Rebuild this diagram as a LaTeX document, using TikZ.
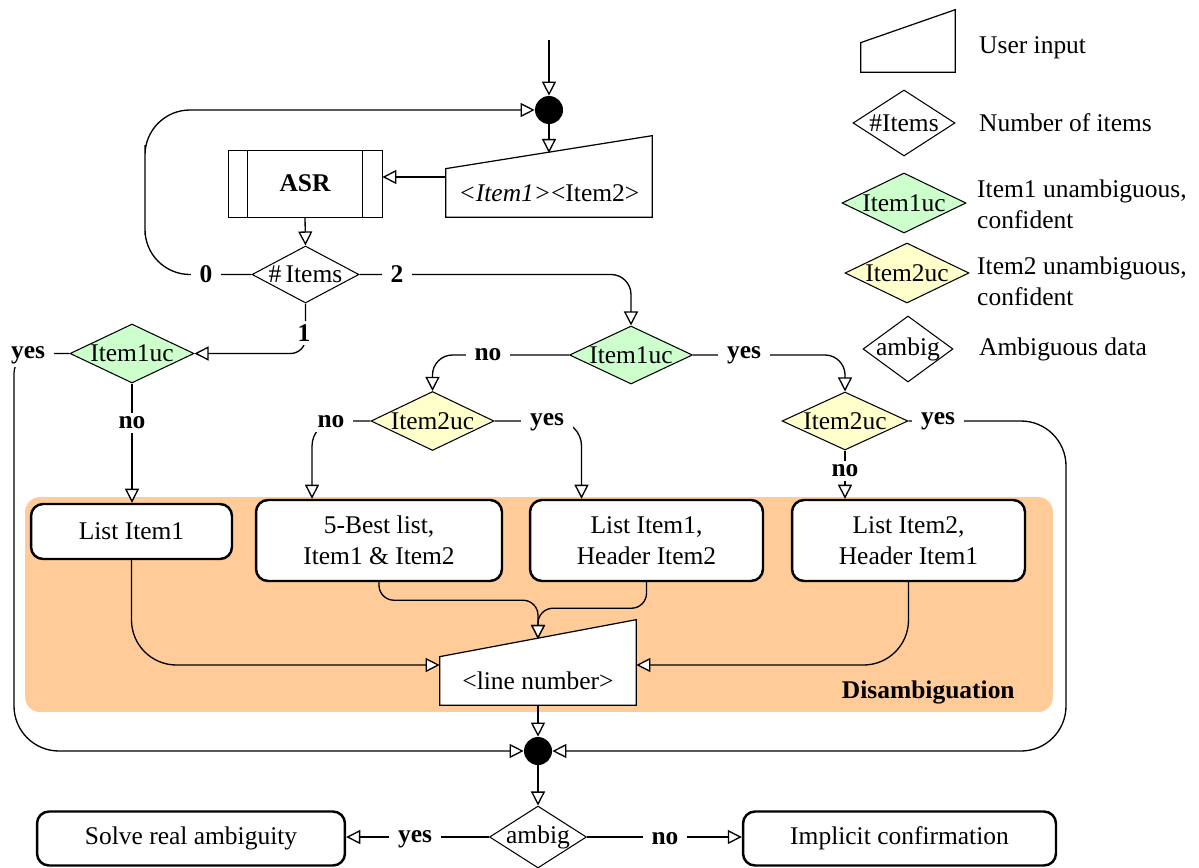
\documentclass[tikz,border=0pt]{standalone}
\usepackage{fontspec}
\setmainfont{Liberation Serif}
\usetikzlibrary{arrows.meta,shapes.geometric}
\definecolor{okgreen}{RGB}{204,255,204}
\definecolor{okyellow}{RGB}{255,255,204}
\definecolor{zonefill}{RGB}{255,204,153}
\newcommand\diagfont{\fontsize{14.5}{17.4}\selectfont}
\begin{document}
\begin{tikzpicture}[x=0.02cm,y=-0.02cm,
  font=\diagfont,
  thin line/.style={line width=0.7pt},
  arr/.style={line width=0.75pt,-{Triangle[length=8pt,width=8pt,fill=white]}},
  dec/.style={diamond,draw,line width=0.6pt,inner sep=0pt},
  box/.style={draw,line width=1.4pt,rounded corners=0.24cm,fill=white,align=center,inner sep=0pt},
  lbl/.style={fill=white,inner xsep=5pt,inner ysep=2pt,font=\diagfont\bfseries},
  dot/.style={circle,fill=black,minimum size=0.56cm,inner sep=0pt},
  input/.style={inner sep=0pt}
]
\useasboundingbox (0,0) rectangle (1199,868);

% disambiguation zone
\node[fill=zonefill,rounded corners=0.3cm,minimum width=20.56cm,minimum height=4.3cm,inner sep=0pt] (zone) at (539,604.5) {};
\node[anchor=east,font=\diagfont\bfseries,inner sep=0pt] (zonelbl) at (1015,692) {Disambiguation};

% junctions
\coordinate (start) at (549,40);
\node[dot] (j1) at (549,110) {};
\node[dot] (j2) at (538,751) {};

% user input of both items
\node[input,minimum width=4.12cm,minimum height=0.96cm] (ui) at (549,193) {};
\draw[thin line,fill=white] (ui.south west) -- (ui.south east) -- ([yshift=0.66cm]ui.north east) -- (ui.north west) -- cycle;
\node at (ui) {\textit{<Item1>}<Item2>};
\coordinate (uitop) at (549,153);
\coordinate (uiout) at ([yshift=0.32cm]ui.west);

% recognizer
\node[draw,line width=0.5pt,minimum width=3.08cm,minimum height=1.34cm,font=\diagfont\bfseries] (asr) at (305,183.5) {ASR};
\draw[line width=0.5pt] ([xshift=0.4cm]asr.north west) -- ([xshift=0.4cm]asr.south west);
\draw[line width=0.5pt] ([xshift=-0.4cm]asr.north east) -- ([xshift=-0.4cm]asr.south east);

% decisions
\node[dec,minimum width=2.14cm,minimum height=1.14cm,label=center:{\#\,Items}] (items) at (305.5,274.5) {};
\node[dec,fill=okgreen,minimum width=2.48cm,minimum height=1.18cm,label=center:Item1uc] (d1L) at (132,353.5) {};
\node[dec,fill=okgreen,minimum width=2.46cm,minimum height=1.16cm,label=center:Item1uc] (d1R) at (631,355) {};
\node[dec,fill=okyellow,minimum width=2.46cm,minimum height=1.18cm,label=center:Item2uc] (d2M) at (432.5,421) {};
\node[dec,fill=okyellow,minimum width=2.52cm,minimum height=1.16cm,label=center:Item2uc] (d2R) at (845,421) {};
\node[dec,fill=white,minimum width=1.94cm,minimum height=1.24cm,label=center:ambig] (ambig) at (538,837) {};

% disambiguation lists
\node[box,minimum width=4.02cm,minimum height=1.1cm] (b1) at (131.5,531.5) {List Item1};
\node[box,minimum width=4.92cm,minimum height=1.62cm] (b2) at (379,540.5) {5-Best list,\\Item1 \& Item2};
\node[box,minimum width=4.66cm,minimum height=1.62cm] (b3) at (646.5,540.5) {List Item1,\\Header Item2};
\node[box,minimum width=4.66cm,minimum height=1.62cm] (b4) at (908.5,540.5) {List Item2,\\Header Item1};

% line number input
\node[input,minimum width=3.92cm,minimum height=0.96cm] (ln) at (538,681) {};
\draw[thin line,fill=white] (ln.south west) -- (ln.south east) -- ([yshift=0.74cm]ln.north east) -- (ln.north west) -- cycle;
\node at (ln) {<line number>};
\coordinate (lntop) at (538,639);
\coordinate (lnL) at ([yshift=0.32cm]ln.west);
\coordinate (lnR) at ([yshift=0.32cm]ln.east);

% outcomes
\node[box,minimum width=6.16cm,minimum height=1.08cm] (solve) at (191,838.5) {Solve real ambiguity};
\node[box,minimum width=6.26cm,minimum height=1.08cm] (impl) at (899.5,838.5) {Implicit confirmation};

% connectors
\coordinate (loopL) at (145,190);
\coordinate (yesL) at (14,520);
\coordinate (yesR) at (1066,520);
\draw[arr] (start) -- (j1.north);
\draw[arr] (j1.south) -- (uitop);
\draw[arr] (uiout) -- (uiout -| asr.east);
\draw[arr] (asr.south) -- (items.north);
\draw[arr,rounded corners=0.9cm] (items.west) -| (loopL) |- (j1.west);
\draw[arr,rounded corners=0.4cm] (items.east) -| (d1R.north);
\draw[arr,rounded corners=0.3cm] (items.south) |- (d1L.east);
\draw[thin line,rounded corners=0.4cm] (d1L.west) -| (yesL);
\draw[arr,rounded corners=0.9cm] (yesL) |- (j2.west);
\draw[arr] (d1L.south) -- (d1L.south |- b1.north);
\draw[arr,rounded corners=0.4cm] (d1R.west) -| (d2M.north);
\draw[arr,rounded corners=0.4cm] (d1R.east) -| (d2R.north);
\draw[arr,rounded corners=0.5cm] (d2M.west) -| ([xshift=-1.34cm]b2.north);
\draw[arr,rounded corners=0.5cm] (d2M.east) -| ([xshift=-1.3cm]b3.north);
\draw[arr] (d2R.south) -- (d2R.south |- b4.north);
\draw[arr,rounded corners=0.9cm] (d2R.east) -| (yesR) |- (j2.east);
\draw[arr,rounded corners=0.9cm] (b1.south) |- (lnL);
\draw[arr,rounded corners=0.9cm] (b4.south) |- (lnR);
\draw[arr,rounded corners=0.3cm] (b3.south) -- ++(0,26) -| (lntop);
\draw[arr,rounded corners=0.3cm] (b2.south) -- ++(0,18) -| (lntop);
\draw[arr] (ln.south) -- (j2.north);
\draw[arr] (j2.south) -- (ambig.north);
\draw[arr] (ambig.west) -- (ambig.west -| solve.east);
\draw[arr] (ambig.east) -- (ambig.east -| impl.west);

% branch labels
\node[lbl] at (206,274) {0};
\node[lbl] at (397,274) {2};
\node[lbl] at (304,333) {1};
\node[lbl] at (28,355) {yes};
\node[lbl] at (132,423) {no};
\node[lbl] at (488,355) {no};
\node[lbl] at (744,355) {yes};
\node[lbl] at (331,422) {no};
\node[lbl] at (547,422) {yes};
\node[lbl] at (938,421) {yes};
\node[lbl] at (845,471) {no};
\node[lbl] at (415,839) {yes};
\node[lbl] at (665,839) {no};

% legend
\node[input,minimum width=1.88cm,minimum height=0.58cm] (lgui) at (908,57.5) {};
\draw[thin line] (lgui.south west) -- (lgui.south east) -- ([yshift=0.66cm]lgui.north east) -- (lgui.north west) -- cycle;
\node[dec,minimum width=2.04cm,minimum height=1.32cm,label=center:\#Items] (lgitems) at (904,123) {};
\node[dec,fill=okgreen,minimum width=2.48cm,minimum height=1.2cm,label=center:Item1uc] (lg1) at (904,203) {};
\node[dec,fill=okyellow,minimum width=2.48cm,minimum height=1.2cm,label=center:Item2uc] (lg2) at (907,273) {};
\node[dec,minimum width=1.8cm,minimum height=1.32cm,label=center:ambig] (lgamb) at (908,349) {};
\node[anchor=west] (t1) at (973,48) {User input};
\node[anchor=west] (t2) at (973,123) {Number of items};
\node[anchor=west,align=left] (t3) at (971,204) {Item1 unambiguous,\\confident};
\node[anchor=west,align=left] (t4) at (971,281) {Item2 unambiguous,\\confident};
\node[anchor=west] (t5) at (973,349) {Ambiguous data};
\end{tikzpicture}
\end{document}
